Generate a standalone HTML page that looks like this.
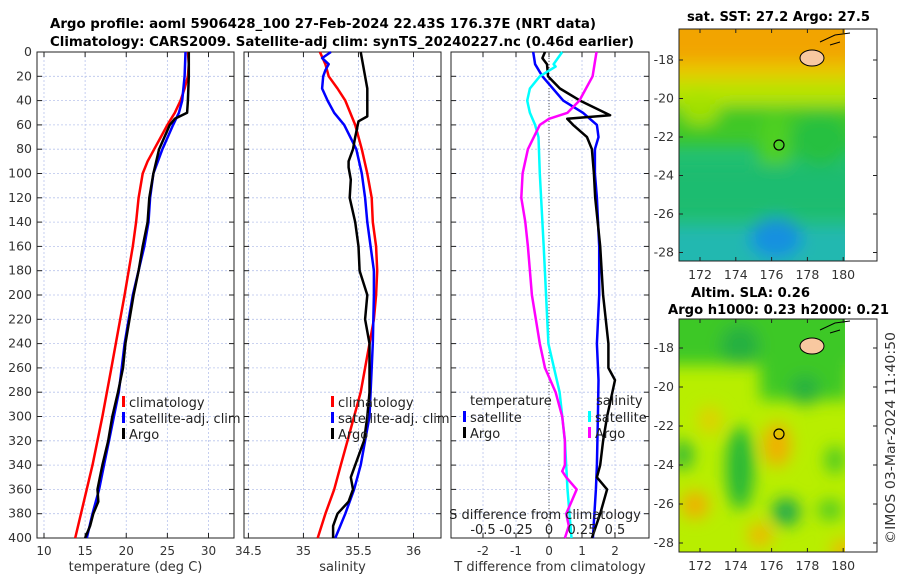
<!DOCTYPE html>
<html><head><meta charset="utf-8"><style>
body{margin:0;background:#fff}
svg{display:block;font-family:"DejaVu Sans","Liberation Sans",sans-serif}
</style></head><body>
<svg id="fig" width="900" height="580" viewBox="0 0 900 580" xmlns="http://www.w3.org/2000/svg">
<defs>
<filter id="blur" x="-50%" y="-50%" width="200%" height="200%"><feGaussianBlur stdDeviation="8"/></filter>
<clipPath id="c1"><rect x="679" y="29" width="166" height="232"/></clipPath>
<clipPath id="c2"><rect x="679" y="319" width="166" height="233"/></clipPath>
</defs>
<text x="50" y="28" font-size="13" font-weight="bold" textLength="546" lengthAdjust="spacingAndGlyphs">Argo profile: aoml 5906428_100 27-Feb-2024 22.43S 176.37E (NRT data)</text>
<text x="50" y="46" font-size="13" font-weight="bold" textLength="584" lengthAdjust="spacingAndGlyphs">Climatology: CARS2009. Satellite-adj clim: synTS_20240227.nc (0.46d earlier)</text>

<g id="map1">
<g clip-path="url(#c1)">
<rect x="679" y="29" width="166" height="232" fill="#22c070"/>
<g filter="url(#blur)">
<rect x="660" y="10" width="200" height="55" fill="#f2a400"/>
<rect x="660" y="62" width="200" height="20" fill="#e8c800"/>
<rect x="660" y="80" width="200" height="30" fill="#b8e400"/>
<rect x="660" y="105" width="200" height="40" fill="#40c828"/>
<ellipse cx="700" cy="110" rx="20" ry="15" fill="#a0e000"/>
<ellipse cx="775" cy="150" rx="16" ry="40" fill="#50d020"/>
<rect x="660" y="165" width="200" height="50" fill="#1cbc70"/>
<ellipse cx="820" cy="140" rx="30" ry="25" fill="#28c040"/>
<rect x="660" y="225" width="200" height="50" fill="#20b8b0"/>
<ellipse cx="776" cy="238" rx="26" ry="20" fill="#1890e0"/>
</g>
</g>
<rect x="845" y="29" width="32" height="232" fill="#fff"/>
<ellipse cx="812" cy="58" rx="12" ry="8" fill="#f8c8a0" stroke="#000" stroke-width="1"/>
<path d="M820 42 L835 35 L850 33 M830 45 L840 42" stroke="#000" fill="none"/>
<rect x="679" y="29" width="198" height="232" fill="none" stroke="#222" stroke-width="1"/>
<circle cx="779" cy="145" r="5" fill="none" stroke="#000" stroke-width="1.2"/>
<text x="687" y="21" font-size="13" font-weight="bold" textLength="183" lengthAdjust="spacingAndGlyphs">sat. SST: 27.2 Argo: 27.5</text>
</g>

<g id="map2">
<g clip-path="url(#c2)">
<rect x="679" y="319" width="166" height="233" fill="#b8ee00"/>
<g filter="url(#blur)">
<rect x="660" y="300" width="200" height="65" fill="#3cc828"/>
<rect x="760" y="360" width="90" height="40" fill="#3cc828"/>
<ellipse cx="740" cy="345" rx="20" ry="20" fill="#28b040"/>
<ellipse cx="805" cy="390" rx="15" ry="15" fill="#28b040"/>
<ellipse cx="740" cy="468" rx="14" ry="42" fill="#28b838"/>
<ellipse cx="786" cy="512" rx="14" ry="14" fill="#1ea850"/>
<ellipse cx="683" cy="455" rx="10" ry="15" fill="#30b838"/>
<ellipse cx="835" cy="460" rx="10" ry="14" fill="#48c828"/>
<ellipse cx="830" cy="510" rx="12" ry="10" fill="#48c828"/>
<ellipse cx="777" cy="445" rx="14" ry="22" fill="#f0b000"/>
<ellipse cx="695" cy="505" rx="14" ry="14" fill="#f0b000"/>
<ellipse cx="760" cy="535" rx="12" ry="12" fill="#f0b800"/>
<ellipse cx="845" cy="550" rx="14" ry="10" fill="#f0b800"/>
<ellipse cx="710" cy="420" rx="12" ry="14" fill="#e0d000"/>
</g>
</g>
<rect x="845" y="319" width="32" height="233" fill="#fff"/>
<ellipse cx="812" cy="346" rx="12" ry="8" fill="#f8c8a0" stroke="#000" stroke-width="1"/>
<path d="M820 330 L835 323 L850 321 M830 333 L840 330" stroke="#000" fill="none"/>
<rect x="679" y="319" width="198" height="233" fill="none" stroke="#222" stroke-width="1"/>
<circle cx="779" cy="434" r="5" fill="none" stroke="#000" stroke-width="1.2"/>
<text x="691" y="297" font-size="13" font-weight="bold" textLength="119" lengthAdjust="spacingAndGlyphs">Altim. SLA: 0.26</text>
<text x="668" y="314" font-size="13" font-weight="bold" textLength="221" lengthAdjust="spacingAndGlyphs">Argo h1000: 0.23 h2000: 0.21</text>
</g>
<text x="0" y="0" font-size="13" fill="#333" textLength="212" lengthAdjust="spacingAndGlyphs" transform="translate(895,544) rotate(-90)">©IMOS 03-Mar-2024 11:40:50</text>
<g id="dyn"></g>
</svg>
<script>
// ---- data ----
const tClimDepth=[0,10,20,30,40,50,60,70,80,90,100,120,140,160,200,260,300,340,400];
const tClim=[27.5,27.6,27.5,27.1,26.6,25.9,25.0,24.2,23.4,22.6,22.0,21.5,21.2,20.8,19.8,18.2,17.1,15.9,13.8];
const tSatDepth=[0,20,40,50,60,80,100,120,140,160,200,240,280,300,320,340,360,380,400];
const tSat=[27.2,27.1,26.8,26.4,25.7,24.4,23.3,22.9,22.7,22.2,20.8,19.8,19.1,18.5,17.9,17.3,16.7,15.9,15.2];
const tArgoDepth=[0,20,40,50,53,55,60,80,100,120,140,160,180,200,220,240,260,280,300,320,340,350,360,370,380,390,400];
const tArgo=[27.6,27.6,27.5,27.4,26.5,25.9,25.3,24.0,23.3,22.8,22.6,22.0,21.5,20.9,20.4,19.9,19.6,19.0,18.3,17.8,17.1,16.8,16.5,16.6,16.0,15.6,15.0];
const sClimDepth=[0,10,20,30,40,60,80,100,120,140,160,180,200,220,240,260,280,300,320,340,360,380,400];
const sClim=[35.15,35.2,35.23,35.31,35.38,35.47,35.53,35.58,35.62,35.63,35.66,35.67,35.66,35.64,35.6,35.56,35.52,35.46,35.4,35.34,35.28,35.2,35.13];
const sSatDepth=[0,5,10,15,20,30,40,50,60,80,100,120,140,160,180,200,240,280,300,320,340,360,380,400];
const sSat=[35.25,35.17,35.23,35.2,35.18,35.17,35.22,35.28,35.37,35.48,35.53,35.56,35.58,35.61,35.64,35.64,35.63,35.61,35.6,35.56,35.52,35.46,35.38,35.29];
const sArgoDepth=[0,20,30,50,53,57,70,80,90,95,105,120,140,160,180,200,220,240,260,280,300,320,340,350,360,370,380,390,400];
const sArgo=[35.52,35.56,35.58,35.58,35.58,35.5,35.47,35.45,35.41,35.41,35.43,35.42,35.47,35.5,35.51,35.58,35.56,35.6,35.6,35.6,35.58,35.55,35.47,35.43,35.45,35.41,35.31,35.27,35.27];
const dTSatDepth=[0,10,20,40,50,60,70,80,100,120,160,200,240,270,300,340,360,400];
const dTSat=[-0.48,-0.42,-0.2,0.43,1.03,1.45,1.5,1.39,1.39,1.45,1.52,1.52,1.45,1.5,1.48,1.45,1.42,1.33];
const dTArgoDepth=[0,5,10,20,30,40,52,55,60,70,80,100,120,160,200,240,260,270,300,320,340,350,360,380,400];
const dTArgo=[-0.12,-0.2,-0.06,-0.03,0.33,0.94,1.85,0.55,0.73,1.15,1.3,1.36,1.4,1.55,1.64,1.8,1.8,2.0,1.76,1.64,1.55,1.45,1.76,1.55,1.3];
const dSSatDepth=[0,10,12,20,30,40,50,60,70,100,160,240,280,320,360,400];
const dSSat=[0.1,0.035,0.05,-0.07,-0.145,-0.165,-0.145,-0.105,-0.08,-0.07,-0.04,-0.005,0.08,0.12,0.14,0.17];
const dSArgoDepth=[0,20,40,50,55,60,80,100,120,140,160,200,240,260,280,300,320,340,345,350,360,370,380,390,400];
const dSArgo=[0.36,0.33,0.23,0.14,0.0,-0.07,-0.16,-0.2,-0.21,-0.18,-0.16,-0.13,-0.07,-0.03,0.05,0.1,0.12,0.12,0.1,0.13,0.21,0.17,0.13,0.15,0.12];
const depthTicks=[0,20,40,60,80,100,120,140,160,180,200,220,240,260,280,300,320,340,360,380,400];
const tTicks=[10,15,20,25,30];
const sTicks=[34.5,35,35.5,36];
const dTicks=[-2,-1,0,1,2];
const dsTicks=[-0.5,-0.25,0,0.25,0.5];
const lonTicks=[172,174,176,178,180];
const latTicks=[-18,-20,-22,-24,-26,-28];

const NS='http://www.w3.org/2000/svg';
const root=document.getElementById('dyn');
function el(tag,at,parent){const e=document.createElementNS(NS,tag);for(const k in at)e.setAttribute(k,at[k]);(parent||root).appendChild(e);return e;}
const Y0=52,Y1=538;
const yD=d=>Y0+(Y1-Y0)*d/400;

function panel(name,x0,x1,xmin,xmax,ticks,fmt,label,showY){
  const g=el('g',{});
  
  
  const xs=v=>x0+(x1-x0)*(v-xmin)/(xmax-xmin);
  ticks.forEach(t=>{const x=xs(t);
    el('line',{x1:x,x2:x,y1:Y0,y2:Y1,stroke:'#b8c4ec','stroke-width':0.8,'stroke-dasharray':'2,2'},g);
    el('line',{x1:x,x2:x,y1:Y1,y2:Y1-5,stroke:'#222'},g);
    el('line',{x1:x,x2:x,y1:Y0,y2:Y0+5,stroke:'#222'},g);
    const tx=el('text',{x:x,y:Y1+17,'font-size':12,'text-anchor':'middle',fill:'#333'},g);tx.textContent=fmt(t);
    
    
  });
  depthTicks.forEach(d=>{const y=yD(d);
    el('line',{x1:x0,x2:x1,y1:y,y2:y,stroke:'#b8c4ec','stroke-width':0.8,'stroke-dasharray':'2,2'},g);
    el('line',{x1:x0,x2:x0+5,y1:y,y2:y,stroke:'#222'},g);
    el('line',{x1:x1,x2:x1-5,y1:y,y2:y,stroke:'#222'},g);
    if(showY){const tx=el('text',{x:x0-5,y:y+4,'font-size':12.5,'text-anchor':'end',fill:'#333'},g);tx.textContent=d;
      
      }
  });
  el('rect',{x:x0,y:Y0,width:x1-x0,height:Y1-Y0,fill:'none',stroke:'#222'},g);
  if(label){const t=el('text',{x:(x0+x1)/2,y:Y1+33,'font-size':13,'text-anchor':'middle',fill:'#333'},g);t.textContent=label;
    
    }
  return {g,xs};
}
function line(p,depths,vals,color,name,w){
  const d=depths.map((dd,i)=>(i?'L':'M')+p.xs(vals[i]).toFixed(1)+' '+yD(dd).toFixed(1)).join(' ');
  const e=el('path',{d:d,fill:'none',stroke:color,'stroke-width':w||2.5,'stroke-linejoin':'round'},p.g);
  
  
}
function legend(g,x,y,items){
  items.forEach((it,i)=>{
    el('rect',{x:x,y:y+i*16-6,width:3,height:11,fill:it[1]},g);
    const t=el('text',{x:x+7,y:y+i*16+5,'font-size':13,fill:'#222'},g);t.textContent=it[0];
    
    
  });
}
const p1=panel('temperature-panel',37,234,9.15,33.1,tTicks,v=>v,'temperature (deg C)',true);
line(p1,tClimDepth,tClim,'#f00','temp-climatology-line');
line(p1,tSatDepth,tSat,'#00f','temp-satellite-line');
line(p1,tArgoDepth,tArgo,'#000','temp-argo-line');
legend(p1.g,122,402,[['climatology','#f00'],['satellite-adj. clim','#00f'],['Argo','#000']]);
const p2=panel('salinity-panel',244,441,34.46,36.25,sTicks,v=>v,'salinity',false);
line(p2,sClimDepth,sClim,'#f00','sal-climatology-line');
line(p2,sSatDepth,sSat,'#00f','sal-satellite-line');
line(p2,sArgoDepth,sArgo,'#000','sal-argo-line');
legend(p2.g,331,402,[['climatology','#f00'],['satellite-adj. clim','#00f'],['Argo','#000']]);
const p3=panel('difference-panel',451,649,-2.97,3.03,dTicks,v=>v,'T difference from climatology',false);
el('line',{x1:p3.xs(0),x2:p3.xs(0),y1:Y0,y2:Y1,stroke:'#555','stroke-dasharray':'1,2'},p3.g);
line(p3,dTSatDepth,dTSat,'#00f','tdiff-satellite-line');
line(p3,dTArgoDepth,dTArgo,'#000','tdiff-argo-line');
line(p3,dSSatDepth,dSSat.map(v=>v*4),'#0ff','sdiff-satellite-line');
line(p3,dSArgoDepth,dSArgo.map(v=>v*4),'#f0f','sdiff-argo-line');
{const t=el('text',{x:470,y:405,'font-size':13,fill:'#222'},p3.g);t.textContent='temperature';
 
 
 const s=el('text',{x:596,y:405,'font-size':13,fill:'#222'},p3.g);s.textContent='salinity';
 
 }
legend(p3.g,463,417,[['satellite','#00f'],['Argo','#000']]);
legend(p3.g,588,417,[['satellite','#0ff'],['Argo','#f0f']]);
{const t=el('text',{x:545,y:519,'font-size':13,'text-anchor':'middle',fill:'#222'},p3.g);t.textContent='S difference from climatology';
 
 }
dsTicks.forEach(v=>{const t=el('text',{x:p3.xs(v*4),y:534,'font-size':13,'text-anchor':'middle',fill:'#222'},p3.g);
 t.textContent=String(v);
 
 });
function mapAxes(top,bottom,lat18,latStep){
  const lx=v=>700+(v-172)*17.9;
  lonTicks.forEach(v=>{const x=lx(v);
    el('line',{x1:x,x2:x,y1:bottom,y2:bottom-4,stroke:'#222'});
    el('line',{x1:x,x2:x,y1:top,y2:top+4,stroke:'#222'});
    const t=el('text',{x:x,y:bottom+18,'font-size':12.5,'text-anchor':'middle',fill:'#333'});t.textContent=v;
    
    });
  latTicks.forEach(v=>{const y=lat18+(-18-v)*latStep;
    el('line',{x1:679,x2:683,y1:y,y2:y,stroke:'#222'});
    el('line',{x1:877,x2:873,y1:y,y2:y,stroke:'#222'});
    const t=el('text',{x:674,y:y+4,'font-size':12.5,'text-anchor':'end',fill:'#333'});t.textContent=v;
    
    });
}
mapAxes(29,261,60,19.25);
mapAxes(319,552,348,19.5);
</script>
</body></html>
